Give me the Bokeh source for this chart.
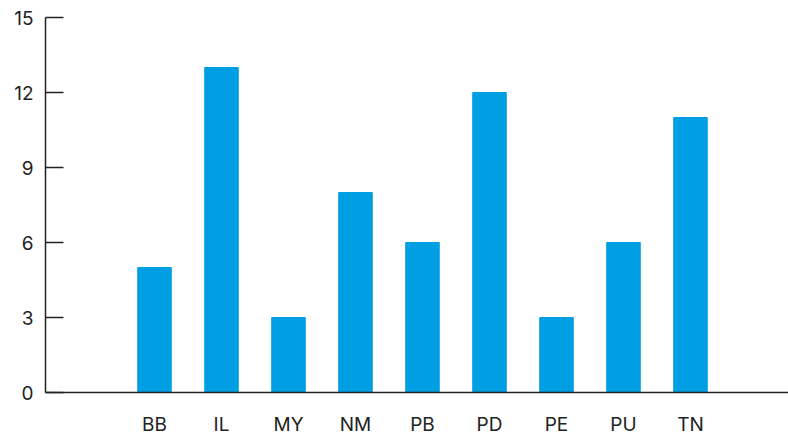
from bokeh.plotting import figure
from bokeh.models import Range1d, FixedTicker, ColumnDataSource
from bokeh.embed import file_html
from bokeh.resources import INLINE

categories = ["BB", "IL", "MY", "NM", "PB", "PD", "PE", "PU", "TN"]
values = [5, 13, 3, 8, 6, 12, 3, 6, 11]
y_ticks = [0, 3, 6, 9, 12, 15]

xs = list(range(len(categories)))
src = ColumnDataSource(dict(x=xs, top=values))

p = figure(width=788, height=438, output_backend="svg", toolbar_location=None,
           x_range=Range1d(-1.627, 9.463), y_range=Range1d(0, 15),
           min_border_left=45, min_border_right=0, min_border_top=17, min_border_bottom=46)
p.vbar(x="x", top="top", width=0.5, bottom=0, source=src, color="#009EE2")

p.xgrid.visible = False
p.ygrid.visible = False
p.outline_line_color = None

font = "Inter"
p.xaxis.ticker = FixedTicker(ticks=xs)
p.xaxis.major_label_overrides = {i: c for i, c in enumerate(categories)}
p.xaxis.major_tick_in = 0
p.xaxis.major_tick_out = 0
p.xaxis.minor_tick_line_color = None
p.xaxis.major_label_standoff = 20
p.yaxis.ticker = FixedTicker(ticks=y_ticks)
p.yaxis.major_tick_in = 18
p.yaxis.major_tick_out = 0
p.yaxis.minor_tick_line_color = None
p.yaxis.major_label_standoff = 12
p.yaxis.major_label_text_baseline = "hanging"
for ax in (p.xaxis, p.yaxis):
    ax.axis_line_color = "#222222"
    ax.axis_line_width = 1.5
    ax.major_tick_line_color = "#222222"
    ax.major_tick_line_width = 1.5
    ax.major_label_text_font = font
    ax.major_label_text_font_size = "19px"
    ax.major_label_text_color = "#222222"

open("out.html", "w").write(file_html(p, INLINE))
